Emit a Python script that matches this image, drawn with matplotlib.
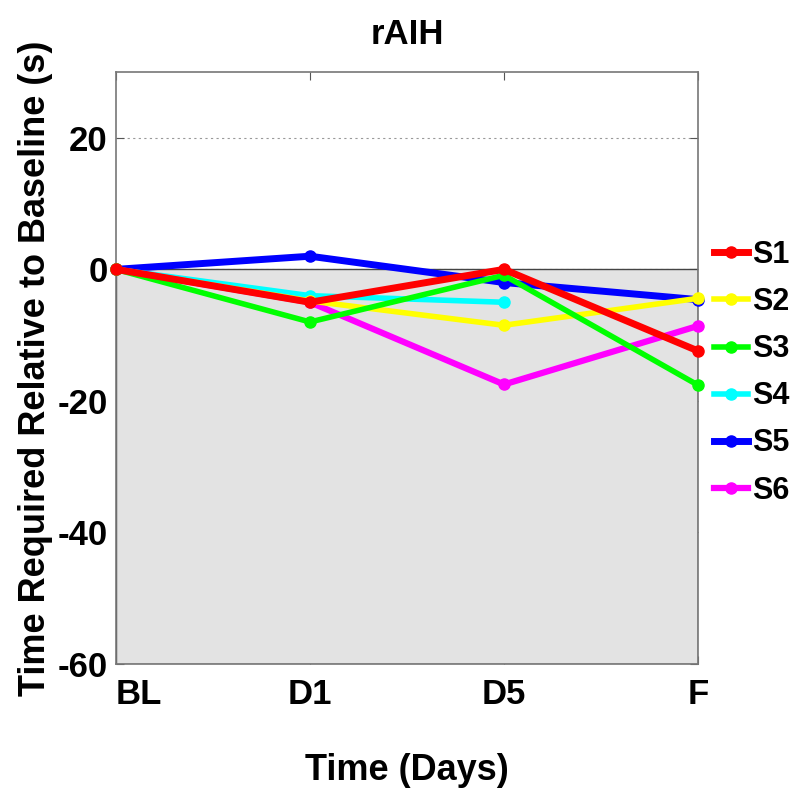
import matplotlib
matplotlib.use('Agg')
import matplotlib.pyplot as plt
from matplotlib.patches import Rectangle

plt.rcParams['font.family'] = ['Liberation Sans', 'DejaVu Sans']
plt.rcParams['font.weight'] = 'bold'
plt.rcParams['axes.unicode_minus'] = False

# ===== data =====
days = ['BL', 'D1', 'D5', 'F']
subjects = ['S1', 'S2', 'S3', 'S4', 'S5', 'S6']
colors = ['#ff0000', '#ffff00', '#00ff00', '#00ffff', '#0000ff', '#ff00ff']

s1 = [0, -5, 0, -12.4]
s2 = [0, -4.8, -8.5, -4.4]
s3 = [0, -8, -0.9, -17.6]
s4 = [0, -4, -5]          # no final session
s5 = [0, 2, -2, -4.6]
s6 = [0, -5, -17.5, -8.6]
series = [s1, s2, s3, s4, s5, s6]
widths = [5.0, 4.0, 4.0, 4.0, 5.0, 4.5]

y_min, y_max = -60, 30

fig = plt.figure(figsize=(8.02, 7.89), dpi=100)
ax = fig.add_axes([0.1446, 0.1584, 0.7257, 0.7503])

# shaded region below baseline
ax.add_patch(Rectangle((1, y_min), 3, -y_min, facecolor='#e3e3e3',
                       edgecolor='#444444', linewidth=1.0, zorder=1))

# draw order puts S5 underneath and S1 on top
order = [4, 3, 5, 1, 2, 0]
handles = {}
for i in order:
    vals = series[i]
    x = list(range(1, len(vals) + 1))
    ln, = ax.plot(x, vals, '-o', color=colors[i], linewidth=widths[i],
                  markersize=8, label=subjects[i], zorder=3, clip_on=False)
    handles[i] = ln

ax.set_xlim(1, 4)
ax.set_ylim(y_min, y_max)
ax.set_xticks([1, 2, 3, 4])
ax.set_xticklabels(days)
ax.set_yticks([-60, -40, -20, 0, 20])
ax.yaxis.grid(True, linestyle=(0, (2, 3)), color='#999999', linewidth=0.8)
ax.set_axisbelow(True)

ax.tick_params(direction='in', length=6, color='#555555', labelsize=25,
               top=True, right=True)
ax.tick_params(axis='x', pad=10)
ax.tick_params(axis='y', pad=6)
for lbl in ax.get_xticklabels() + ax.get_yticklabels():
    lbl.set_fontweight('bold')
# first day label starts at its tick instead of centring on it
ax.get_xticklabels()[0].set_ha('left')
for sp in ax.spines.values():
    sp.set_color('#777777')
    sp.set_linewidth(1.2)

ax.set_title('rAIH', fontsize=25, fontweight='bold', pad=20)
ax.set_xlabel('Time (Days)', fontsize=26, fontweight='bold', labelpad=30)
ax.set_ylabel('Time Required Relative to Baseline (s)', fontsize=26,
              fontweight='bold', labelpad=3)

fig.legend([handles[i] for i in range(6)], subjects, loc='upper left',
           bbox_to_anchor=(714 / 802, 1 - 240 / 789), frameon=False,
           prop={'weight': 'bold', 'size': 22}, handlelength=1.1,
           handletextpad=0.15, labelspacing=0.56, borderpad=0,
           borderaxespad=0)

fig.savefig('out.png', dpi=100)
